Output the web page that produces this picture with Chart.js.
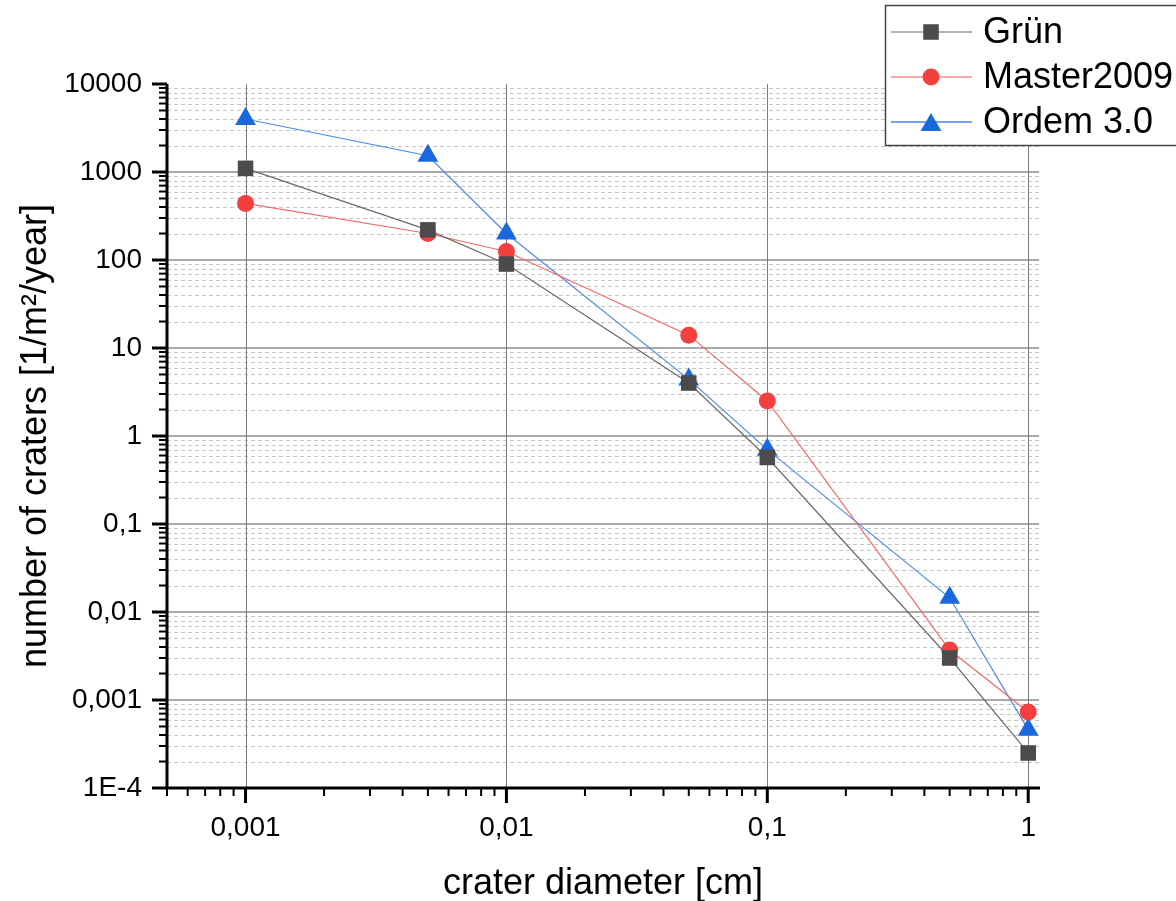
<!DOCTYPE html>
<html>
<head>
<meta charset="utf-8">
<script src="https://cdn.jsdelivr.net/npm/chart.js@4.4.1/dist/chart.umd.min.js"></script>
<style>
html,body{margin:0;padding:0;background:#fff;}
#wrap{width:1176px;height:901px;}
</style>
</head>
<body>
<div id="wrap"><canvas id="c" width="1176" height="901"></canvas></div>
<script>
// values
const diameters = [0.001, 0.005, 0.01, 0.05, 0.1, 0.5, 1];
const gruen = [1100, 220, 90, 4.0, 0.57, 0.0030, 0.00025];
const master2009 = [440, 200, 125, 14, 2.5, 0.0037, 0.00073];
const ordem30 = [4000, 1530, 200, 4.4, 0.70, 0.0145, 0.00046];
const seriesNames = ["Grün", "Master2009", "Ordem 3.0"];

const xTickValues = [0.001, 0.01, 0.1, 1];
const xTickLabels = ["0,001", "0,01", "0,1", "1"];
const yTickValues = [1e-4, 1e-3, 1e-2, 1e-1, 1, 10, 100, 1000, 10000];
const yTickLabels = ["1E-4", "0,001", "0,01", "0,1", "1", "10", "100", "1000", "10000"];

const FONT = "'Liberation Sans', Arial, sans-serif";

function pts(ys) {
  return diameters.map((d, i) => ({ x: d, y: ys[i] }));
}

// minor tick values 2..9 x 10^e inside [lo, hi]
function minorValues(lo, hi) {
  const out = [];
  for (let e = -6; e <= 5; e++) {
    for (let k = 2; k <= 9; k++) {
      const v = k * Math.pow(10, e);
      if (v >= lo * 0.999 && v <= hi * 1.001) out.push(v);
    }
  }
  return out;
}

const gridAndAxes = {
  id: "gridAndAxes",
  beforeDatasetsDraw(chart) {
    const { ctx, chartArea: a, scales: { x, y } } = chart;
    ctx.save();
    // minor horizontal grid, dashed
    ctx.lineWidth = 1;
    ctx.strokeStyle = "#c6c6c6";
    ctx.setLineDash([4, 3]);
    minorValues(y.min, y.max).forEach(v => {
      const py = Math.round(y.getPixelForValue(v)) + 0.5;
      ctx.beginPath(); ctx.moveTo(a.left, py); ctx.lineTo(a.right, py); ctx.stroke();
    });
    ctx.setLineDash([]);
    // major horizontal grid
    ctx.lineWidth = 2;
    ctx.strokeStyle = "#a9a9a9";
    yTickValues.slice(1, -1).forEach(v => {
      const py = Math.round(y.getPixelForValue(v));
      ctx.beginPath(); ctx.moveTo(a.left, py); ctx.lineTo(a.right, py); ctx.stroke();
    });
    // major vertical grid
    ctx.lineWidth = 1;
    ctx.strokeStyle = "#7a7a7a";
    xTickValues.forEach(v => {
      const px = Math.round(x.getPixelForValue(v)) + 0.5;
      ctx.beginPath(); ctx.moveTo(px, a.top); ctx.lineTo(px, a.bottom); ctx.stroke();
    });
    ctx.restore();
  },
  afterDatasetsDraw(chart) {
    const { ctx, chartArea: a, scales: { x, y } } = chart;
    ctx.save();
    ctx.strokeStyle = "#000";
    // axis lines
    ctx.lineWidth = 3;
    ctx.beginPath();
    ctx.moveTo(a.left, a.top);
    ctx.lineTo(a.left, a.bottom);
    ctx.moveTo(a.left - 1.5, a.bottom);
    ctx.lineTo(a.right + 1, a.bottom);
    ctx.stroke();
    // y ticks
    yTickValues.forEach(v => {
      const py = y.getPixelForValue(v);
      ctx.lineWidth = 3;
      ctx.beginPath(); ctx.moveTo(a.left - 15, py); ctx.lineTo(a.left, py); ctx.stroke();
    });
    minorValues(y.min, y.max).forEach(v => {
      const py = y.getPixelForValue(v);
      ctx.lineWidth = 2;
      ctx.beginPath(); ctx.moveTo(a.left - 8, py); ctx.lineTo(a.left, py); ctx.stroke();
    });
    // x ticks
    xTickValues.forEach(v => {
      const px = x.getPixelForValue(v);
      ctx.lineWidth = 3;
      ctx.beginPath(); ctx.moveTo(px, a.bottom); ctx.lineTo(px, a.bottom + 15); ctx.stroke();
    });
    minorValues(x.min, x.max).forEach(v => {
      const px = x.getPixelForValue(v);
      ctx.lineWidth = 2;
      ctx.beginPath(); ctx.moveTo(px, a.bottom); ctx.lineTo(px, a.bottom + 8); ctx.stroke();
    });
    ctx.restore();
  }
};

function drawMarker(ctx, style, cx, cy, r) {
  ctx.beginPath();
  if (style === "rect") {
    const s = Math.SQRT1_2 * r;
    ctx.rect(cx - s, cy - s, 2 * s, 2 * s);
  } else if (style === "triangle") {
    ctx.moveTo(cx, cy - r);
    ctx.lineTo(cx + 0.866 * r, cy + 0.5 * r);
    ctx.lineTo(cx - 0.866 * r, cy + 0.5 * r);
    ctx.closePath();
  } else {
    ctx.arc(cx, cy, r, 0, Math.PI * 2);
  }
  ctx.fill();
}

const boxLegend = {
  id: "boxLegend",
  afterDraw(chart) {
    const ctx = chart.ctx;
    ctx.save();
    ctx.fillStyle = "#fff";
    ctx.fillRect(885.5, 5.5, 300, 140);
    ctx.strokeStyle = "#444";
    ctx.lineWidth = 1.5;
    ctx.strokeRect(885.5, 5.5, 300, 140);
    const legendLines = ["#9a9a9a", "#ff8c8c", "#4a86e0"];
    chart.data.datasets.forEach((ds, i) => {
      const ry = 32 + i * 45;
      ctx.strokeStyle = legendLines[i];
      ctx.lineWidth = 1.5;
      ctx.beginPath(); ctx.moveTo(891, ry); ctx.lineTo(972, ry); ctx.stroke();
      ctx.fillStyle = ds.pointBackgroundColor;
      drawMarker(ctx, ds.pointStyle, 931, ds.pointStyle === "triangle" ? ry + 3 : ry, ds.pointRadius);
      ctx.fillStyle = "#000";
      ctx.font = "36px " + FONT;
      ctx.textAlign = "left";
      ctx.textBaseline = "middle";
      ctx.fillText(ds.label, 983, ry + 1);
    });
    ctx.restore();
  }
};

new Chart(document.getElementById("c"), {
  type: "line",
  data: {
    datasets: [
      {
        label: seriesNames[0], data: pts(gruen),
        borderColor: "#6a6a6a", borderWidth: 1.2,
        pointStyle: "rect", pointRadius: 11, pointBackgroundColor: "#4b4b4b", pointBorderWidth: 0
      },
      {
        label: seriesNames[1], data: pts(master2009),
        borderColor: "#f26a6a", borderWidth: 1.2,
        pointStyle: "circle", pointRadius: 8.5, pointBackgroundColor: "#f43f3f", pointBorderWidth: 0
      },
      {
        label: seriesNames[2], data: pts(ordem30),
        borderColor: "#4d8ae6", borderWidth: 1.2,
        pointStyle: "triangle", pointRadius: 12, pointBackgroundColor: "#1a68de", pointBorderWidth: 0
      }
    ]
  },
  options: {
    responsive: false,
    animation: false,
    events: [],
    layout: { padding: { left: 0, top: 84, right: 137, bottom: 0 } },
    plugins: { legend: { display: false }, tooltip: { enabled: false } },
    elements: { line: { tension: 0 } },
    scales: {
      x: {
        type: "logarithmic", min: 0.0005, max: 1.1,
        grid: { display: false }, border: { display: false },
        afterBuildTicks: s => { s.ticks = xTickValues.map(v => ({ value: v })); },
        afterFit: s => { s.height = 113; },
        ticks: {
          autoSkip: false, maxRotation: 0, padding: 15, color: "#000",
          font: { family: FONT, size: 28 },
          callback: (v, i) => xTickLabels[i]
        },
        title: {
          display: true, text: "crater diameter [cm]", color: "#000",
          font: { family: FONT, size: 36, lineHeight: 1 },
          padding: { top: 0, bottom: -1 }
        }
      },
      y: {
        type: "logarithmic", min: 1e-4, max: 1e4,
        grid: { display: false }, border: { display: false },
        afterBuildTicks: s => { s.ticks = yTickValues.map(v => ({ value: v })); },
        afterFit: s => { s.width = 167; },
        ticks: {
          autoSkip: false, padding: 17, color: "#000",
          font: { family: FONT, size: 28 },
          callback: (v, i) => yTickLabels[i]
        },
        title: {
          display: true, text: "number of craters [1/m²/year]", color: "#000",
          font: { family: FONT, size: 36, lineHeight: 1 },
          padding: { top: 18, bottom: 0 }
        }
      }
    }
  },
  plugins: [gridAndAxes, boxLegend]
});
</script>
</body>
</html>
